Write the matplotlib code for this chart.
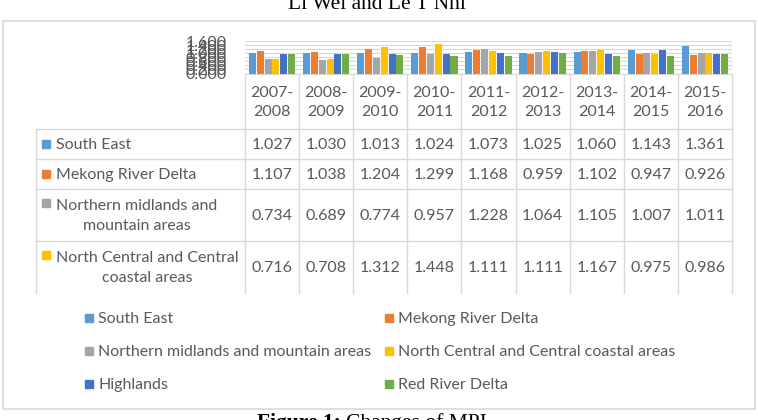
import matplotlib
matplotlib.use("Agg")
import matplotlib.pyplot as plt
from matplotlib.patches import Rectangle
import numpy as np

periods = ["2007-\n2008", "2008-\n2009", "2009-\n2010", "2010-\n2011", "2011-\n2012",
           "2012-\n2013", "2013-\n2014", "2014-\n2015", "2015-\n2016"]

south_east = [1.027, 1.030, 1.013, 1.024, 1.073, 1.025, 1.060, 1.143, 1.361]
mekong = [1.107, 1.038, 1.204, 1.299, 1.168, 0.959, 1.102, 0.947, 0.926]
northern = [0.734, 0.689, 0.774, 0.957, 1.228, 1.064, 1.105, 1.007, 1.011]
north_central = [0.716, 0.708, 1.312, 1.448, 1.111, 1.111, 1.167, 0.975, 0.986]
# these two rows are cut off in the table, values estimated from the bars
highlands = [0.97, 0.95, 0.94, 0.96, 0.99, 1.06, 0.96, 1.15, 0.95]
red_river = [0.96, 0.95, 0.93, 0.87, 0.84, 1.01, 0.87, 0.86, 0.95]

series_names = ["South East", "Mekong River Delta", "Northern midlands and mountain areas",
                "North Central and Central coastal areas", "Highlands", "Red River Delta"]
row_labels = ["South East", "Mekong River Delta", "Northern midlands and\nmountain areas",
              "North Central and Central\ncoastal areas"]
series = [south_east, mekong, northern, north_central, highlands, red_river]
colors = ["#5B9BD5", "#ED7D31", "#A5A5A5", "#FFC000", "#4472C4", "#70AD47"]

FONT = "Lato"
FS = 11.5
TXT = "#595959"
GRID = "#d9d9d9"
W, H = 758, 420

fig = plt.figure(figsize=(W / 100, H / 100), dpi=100)

# overlay axes in pixel coords (y down)
ov = fig.add_axes([0, 0, 1, 1])
ov.set_xlim(0, W)
ov.set_ylim(H, 0)
ov.axis("off")

# plot area
px0, px1 = 245, 732
py_top, py_base = 41, 73.5
ax = fig.add_axes([px0 / W, 1 - py_base / H, (px1 - px0) / W, (py_base - py_top) / H])
x = np.arange(len(periods))
for i, (vals, c) in enumerate(zip(series, colors)):
    ax.bar(x + (i - 2.5) * 0.145, vals, width=0.13, color=c, zorder=3)
ax.set_xlim(-0.5, len(periods) - 0.5)
ax.set_ylim(0, 1.6)
ticks = np.arange(0, 1.61, 0.2)
ax.set_yticks(ticks)
ax.set_yticklabels([f"{v:.3f}" for v in ticks], fontfamily=FONT, fontsize=FS, color=TXT)
ax.tick_params(axis="y", length=0, pad=13)
ax.set_xticks([])
ax.grid(axis="y", color=GRID, linewidth=0.8, zorder=0)
for s in ["top", "left", "right"]:
    ax.spines[s].set_visible(False)
ax.spines["bottom"].set_color(GRID)
ax.patch.set_alpha(0)

# chart border
ov.add_patch(Rectangle((2.5, 20.5), 752, 388.5, fill=False, edgecolor=GRID, lw=1.2))

# data table
col_w = (px1 - px0) / len(periods)
edges = [px0 + k * col_w for k in range(len(periods) + 1)]
row_edges = [129, 159, 189, 241, 293]
tbl_left = 36
for xe in edges:
    ov.plot([xe, xe], [py_base, 293], color=GRID, lw=1)
ov.plot([tbl_left, tbl_left], [129, 293], color=GRID, lw=1)
for ye in row_edges[:-1]:
    ov.plot([tbl_left, px1], [ye, ye], color=GRID, lw=1)

for k, p in enumerate(periods):
    ov.text((edges[k] + edges[k + 1]) / 2, 102.5, p, ha="center", va="center",
            fontfamily=FONT, fontsize=FS, color=TXT, linespacing=1.45)

for r, (lab, vals, c) in enumerate(zip(row_labels, series[:4], colors[:4])):
    y0, y1 = row_edges[r], row_edges[r + 1]
    yc = (y0 + y1) / 2
    first_line_y = yc if "\n" not in lab else y0 + 14
    ov.add_patch(Rectangle((42, first_line_y - 4), 8, 8, color=c))
    ov.text(56, yc + 1, lab, ha="left", va="center", multialignment="center",
            fontfamily=FONT, fontsize=FS, color=TXT, linespacing=1.5)
    for k, v in enumerate(vals):
        ov.text((edges[k] + edges[k + 1]) / 2, yc + 1, f"{v:.3f}", ha="center",
                va="center", fontfamily=FONT, fontsize=FS, color=TXT)

# legend (two columns, row-major like Excel)
leg_x = [85, 385]
leg_y = [318, 351, 384]
for i, (name, c) in enumerate(zip(series_names, colors)):
    lx, ly = leg_x[i % 2], leg_y[i // 2]
    ov.add_patch(Rectangle((lx, ly - 4), 8, 8, color=c))
    ov.text(lx + 13, ly + 1, name, ha="left", va="center",
            fontfamily=FONT, fontsize=FS, color=TXT)

# clipped header / caption from the page
ov.text(377, 9, "Li Wei and Le T Nhi", ha="center", va="baseline",
        fontfamily="Liberation Serif", fontsize=15.5, color="black")
ov.text(341, 413, "Figure 1:", ha="right", va="top", fontfamily="Liberation Serif",
        fontsize=15.5, fontweight="bold", color="black")
ov.text(346, 413, "Changes of MPI", ha="left", va="top", fontfamily="Liberation Serif",
        fontsize=15.5, color="black")

fig.savefig("out.png", dpi=100)
